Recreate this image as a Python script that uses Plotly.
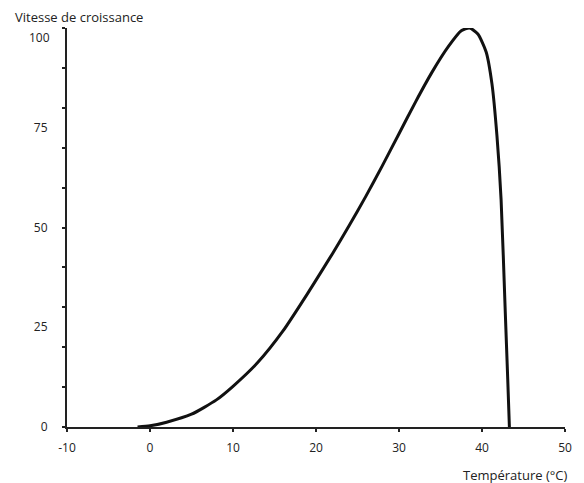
import plotly.graph_objects as go

temperature = [-1.5, 0, 2, 5, 8, 10, 13, 16, 19, 22, 24, 26, 28, 30, 32, 34, 36,
               37.5, 38.5, 39.5, 40.5, 41.2, 41.8, 42.3, 42.8, 43.1, 43.3]
vitesse = [0, 0.3, 1.2, 3.2, 6.8, 10.2, 16.2, 24, 33.5, 43.5, 50.5, 57.8, 65.5, 73.5, 81.5, 89, 95.5,
           99.3, 100, 98.5, 94, 86, 73, 57, 29, 12, 0]

x_ticks = [-10, 0, 10, 20, 30, 40, 50]
y_ticks = [0, 25, 50, 75, 100]

fig = go.Figure()
fig.add_trace(go.Scatter(
    x=temperature, y=vitesse, mode="lines",
    line=dict(color="#111111", width=3, shape="spline", smoothing=0.6),
    hoverinfo="skip", showlegend=False,
))

axis_color = "#222222"
# top label (100) is drawn slightly below its tick, as in the reference
y_tick_text = [str(v) if v != y_ticks[-1] else "" for v in y_ticks]

fig.update_layout(
    width=576, height=475,
    margin=dict(l=59, r=19, t=20, b=56),
    paper_bgcolor="white", plot_bgcolor="white",
    font=dict(family="Open Sans", size=12, color="#222222"),
    xaxis=dict(
        range=[-10, 50], tickmode="array", tickvals=x_ticks,
        ticktext=[str(v) for v in x_ticks],
        showgrid=False, zeroline=False, showline=True, linecolor=axis_color, linewidth=2,
        ticks="outside", ticklen=3, tickwidth=1.5, tickcolor=axis_color,
        ticklabelstandoff=6, fixedrange=True,
    ),
    yaxis=dict(
        range=[0, 100], tickmode="array", tickvals=y_ticks,
        ticktext=y_tick_text,
        showgrid=False, zeroline=False, showline=True, linecolor=axis_color, linewidth=2,
        ticks="", ticklabelstandoff=15,
        minor=dict(tickmode="linear", tick0=0, dtick=10, ticks="outside", ticklen=3,
                   tickwidth=1.5, tickcolor=axis_color, showgrid=False),
        fixedrange=True,
    ),
    annotations=[
        dict(text=str(y_ticks[-1]), xref="paper", yref="y",
             x=0, y=y_ticks[-1], xanchor="right", yanchor="middle", xshift=-15, yshift=-9,
             showarrow=False, font=dict(size=12, color="#222222")),
        dict(text="Vitesse de croissance", xref="paper", yref="paper",
             x=-0.108, y=1.028, xanchor="left", yanchor="middle", showarrow=False,
             font=dict(size=13, color="#222222")),
        dict(text="Température (°C)", xref="paper", yref="paper",
             x=1.008, y=-0.12, xanchor="right", yanchor="middle", showarrow=False,
             font=dict(size=13, color="#222222")),
    ],
)

fig.write_html("out.html")
